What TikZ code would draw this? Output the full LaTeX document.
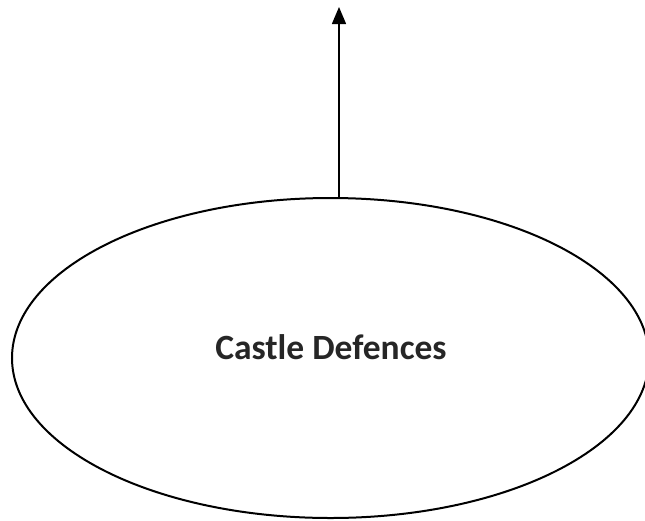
\documentclass[tikz,border=0pt]{standalone}
\usepackage{fontspec}
\setmainfont{Carlito}
\usetikzlibrary{arrows.meta,positioning}

\begin{document}
\begin{tikzpicture}[x=1pt, y=-1pt]

  % Page
  \useasboundingbox (0, 0) rectangle (645, 520);

  % Define radii
  \def\rx{318.5}
  \def\ry{160}

  % Ellipse
  \coordinate (orig) at (330.5, 358);
  \draw[line width=2pt] (orig) ellipse ({\rx} and {\ry});
  \node[anchor=base, font=\bfseries\fontsize{35.5}{40}\selectfont, text=black!85] (label) at (331, 359.5) {Castle Defences};

  % Arrow
  \coordinate (top) at (339, 198.5);
  \coordinate (tip) at (339, 7);
  \draw[line width=1.5pt, -{Triangle[length=17pt, width=14pt]}] (top) -- (tip);

\end{tikzpicture}
\end{document}
